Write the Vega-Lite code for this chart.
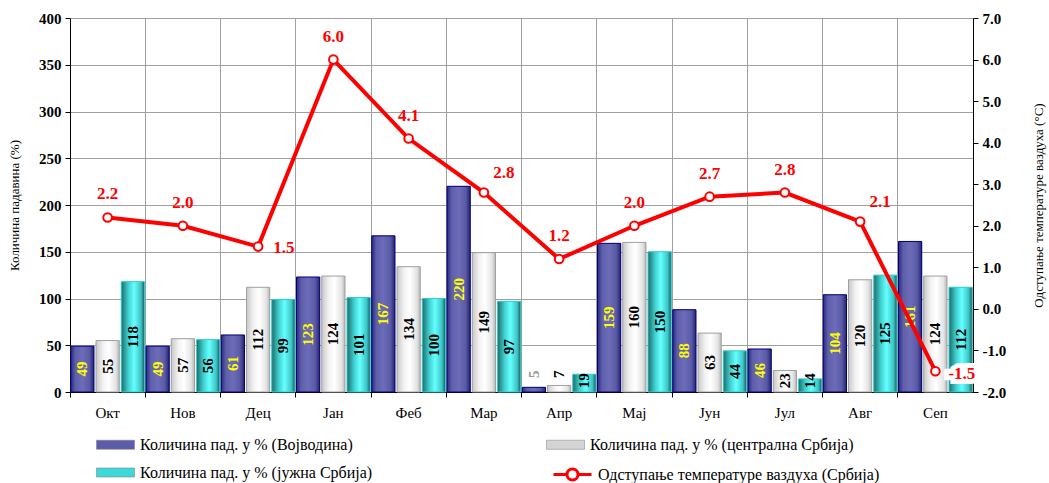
{
  "$schema": "https://vega.github.io/schema/vega-lite/v6.json",
  "width": 903,
  "height": 374,
  "autosize": {"type": "none"},
  "padding": {"left": 70, "top": 18, "right": 76, "bottom": 91},
  "background": "#ffffff",
  "config": {
    "font": "Liberation Serif",
    "view": {"stroke": null},
    "locale": {"number": {"decimal": ".", "thousands": ",", "grouping": [3], "currency": ["$", ""], "minus": "-"}},
    "axis": {"labelFont": "Liberation Serif", "titleFont": "Liberation Serif", "labelColor": "#000000", "titleColor": "#000000", "domainColor": "#000000", "tickColor": "#000000"},
    "legend": {"labelFont": "Liberation Serif"}
  },
  "datasets": {
    "rain": [
      {"month": "Окт", "series": "Количина пад. у % (Војводина)", "value": 49},
      {"month": "Окт", "series": "Количина пад. у % (централна Србија)", "value": 55},
      {"month": "Окт", "series": "Количина пад. у % (јужна Србија)", "value": 118},
      {"month": "Нов", "series": "Количина пад. у % (Војводина)", "value": 49},
      {"month": "Нов", "series": "Количина пад. у % (централна Србија)", "value": 57},
      {"month": "Нов", "series": "Количина пад. у % (јужна Србија)", "value": 56},
      {"month": "Дец", "series": "Количина пад. у % (Војводина)", "value": 61},
      {"month": "Дец", "series": "Количина пад. у % (централна Србија)", "value": 112},
      {"month": "Дец", "series": "Количина пад. у % (јужна Србија)", "value": 99},
      {"month": "Јан", "series": "Количина пад. у % (Војводина)", "value": 123},
      {"month": "Јан", "series": "Количина пад. у % (централна Србија)", "value": 124},
      {"month": "Јан", "series": "Количина пад. у % (јужна Србија)", "value": 101},
      {"month": "Феб", "series": "Количина пад. у % (Војводина)", "value": 167},
      {"month": "Феб", "series": "Количина пад. у % (централна Србија)", "value": 134},
      {"month": "Феб", "series": "Количина пад. у % (јужна Србија)", "value": 100},
      {"month": "Мар", "series": "Количина пад. у % (Војводина)", "value": 220},
      {"month": "Мар", "series": "Количина пад. у % (централна Србија)", "value": 149},
      {"month": "Мар", "series": "Количина пад. у % (јужна Србија)", "value": 97},
      {"month": "Апр", "series": "Количина пад. у % (Војводина)", "value": 5},
      {"month": "Апр", "series": "Количина пад. у % (централна Србија)", "value": 7},
      {"month": "Апр", "series": "Количина пад. у % (јужна Србија)", "value": 19},
      {"month": "Мај", "series": "Количина пад. у % (Војводина)", "value": 159},
      {"month": "Мај", "series": "Количина пад. у % (централна Србија)", "value": 160},
      {"month": "Мај", "series": "Количина пад. у % (јужна Србија)", "value": 150},
      {"month": "Јун", "series": "Количина пад. у % (Војводина)", "value": 88},
      {"month": "Јун", "series": "Количина пад. у % (централна Србија)", "value": 63},
      {"month": "Јун", "series": "Количина пад. у % (јужна Србија)", "value": 44},
      {"month": "Јул", "series": "Количина пад. у % (Војводина)", "value": 46},
      {"month": "Јул", "series": "Количина пад. у % (централна Србија)", "value": 23},
      {"month": "Јул", "series": "Количина пад. у % (јужна Србија)", "value": 14},
      {"month": "Авг", "series": "Количина пад. у % (Војводина)", "value": 104},
      {"month": "Авг", "series": "Количина пад. у % (централна Србија)", "value": 120},
      {"month": "Авг", "series": "Количина пад. у % (јужна Србија)", "value": 125},
      {"month": "Сеп", "series": "Количина пад. у % (Војводина)", "value": 161},
      {"month": "Сеп", "series": "Количина пад. у % (централна Србија)", "value": 124},
      {"month": "Сеп", "series": "Количина пад. у % (јужна Србија)", "value": 112}
    ],
    "temp": [
      {"month": "Окт", "series": "Одступање температуре ваздуха (Србија)", "temp": 2.2},
      {"month": "Нов", "series": "Одступање температуре ваздуха (Србија)", "temp": 2.0},
      {"month": "Дец", "series": "Одступање температуре ваздуха (Србија)", "temp": 1.5},
      {"month": "Јан", "series": "Одступање температуре ваздуха (Србија)", "temp": 6.0},
      {"month": "Феб", "series": "Одступање температуре ваздуха (Србија)", "temp": 4.1},
      {"month": "Мар", "series": "Одступање температуре ваздуха (Србија)", "temp": 2.8},
      {"month": "Апр", "series": "Одступање температуре ваздуха (Србија)", "temp": 1.2},
      {"month": "Мај", "series": "Одступање температуре ваздуха (Србија)", "temp": 2.0},
      {"month": "Јун", "series": "Одступање температуре ваздуха (Србија)", "temp": 2.7},
      {"month": "Јул", "series": "Одступање температуре ваздуха (Србија)", "temp": 2.8},
      {"month": "Авг", "series": "Одступање температуре ваздуха (Србија)", "temp": 2.1},
      {"month": "Сеп", "series": "Одступање температуре ваздуха (Србија)", "temp": -1.5}
    ]
  },
  "encoding": {
    "x": {
      "field": "month",
      "type": "nominal",
      "sort": ["Окт", "Нов", "Дец", "Јан", "Феб", "Мар", "Апр", "Мај", "Јун", "Јул", "Авг", "Сеп"],
      "scale": {"paddingInner": 0, "paddingOuter": 0},
      "axis": {
        "title": null,
        "labelAngle": 0,
        "labelFontSize": 15,
        "bandPosition": 0,
        "labelOffset": 0,
        "labelPadding": 8,
        "grid": true,
        "gridColor": "#a0a0a0",
        "gridWidth": 1,
        "tickSize": 5
      }
    }
  },
  "layer": [
    {
      "data": {"name": "rain"},
      "encoding": {
        "xOffset": {
          "field": "series",
          "type": "nominal",
          "sort": ["Количина пад. у % (Војводина)", "Количина пад. у % (централна Србија)", "Количина пад. у % (јужна Србија)"],
          "scale": {"paddingInner": 0.08, "paddingOuter": 0.03}
        }
      },
      "layer": [
        {
          "mark": {"type": "bar", "strokeWidth": 0},
          "encoding": {
            "y": {
              "field": "value",
              "type": "quantitative",
              "scale": {"domain": [0, 400]},
              "axis": {
                "orient": "left",
                "title": "Количина падавина  (%)",
                "titleFontWeight": "normal",
                "titleFontSize": 13,
                "titlePadding": 17,
                "values": [0, 50, 100, 150, 200, 250, 300, 350, 400],
                "labelFontWeight": "bold",
                "labelFontSize": 15,
                "labelPadding": 4,
                "tickSize": 5,
                "grid": true,
                "gridColor": "#a0a0a0"
              }
            },
            "fill": {
              "field": "series",
              "type": "nominal",
              "scale": {
                "domain": ["Количина пад. у % (Војводина)", "Количина пад. у % (јужна Србија)", "Количина пад. у % (централна Србија)"],
                "range": ["#5c5cab", "#3fd8d8", "#d4d4d4"]
              },
              "legend": {
                "orient": "none",
                "legendX": 26,
                "legendY": 407,
                "title": null,
                "columns": 2,
                "gridAlign": "each",
                "columnPadding": 172,
                "rowPadding": -9,
                "labelFontSize": 16,
                "labelColor": "#000000",
                "labelLimit": 500,
                "labelOffset": 5,
                "symbolSize": 1444,
                "symbolType": "M-1,-0.24H1V0.24H-1Z",
                "symbolStrokeColor": "#7a7a7a",
                "symbolStrokeWidth": 0.5,
                "symbolOpacity": 1
              }
            }
          }
        },
        {
          "mark": {"type": "bar", "strokeWidth": 1},
          "encoding": {
            "y": {"field": "value", "type": "quantitative", "scale": {"domain": [0, 400]}},
            "fill": {
              "condition": [
                {"test": "datum.series === 'Количина пад. у % (Војводина)'", "value": {"gradient": "linear", "x1": 0, "y1": 0, "x2": 1, "y2": 0, "stops": [{"offset": 0, "color": "#2a2a80"}, {"offset": 0.2, "color": "#5e5eaa"}, {"offset": 0.5, "color": "#6c6cb8"}, {"offset": 0.8, "color": "#5a5aa6"}, {"offset": 1, "color": "#26266e"}]}},
                {"test": "datum.series === 'Количина пад. у % (централна Србија)'", "value": {"gradient": "linear", "x1": 0, "y1": 0, "x2": 1, "y2": 0, "stops": [{"offset": 0, "color": "#c8c8c8"}, {"offset": 0.3, "color": "#f2f2f2"}, {"offset": 0.55, "color": "#ffffff"}, {"offset": 0.85, "color": "#e4e4e4"}, {"offset": 1, "color": "#b8b8b8"}]}}
              ],
              "value": {"gradient": "linear", "x1": 0, "y1": 0, "x2": 1, "y2": 0, "stops": [{"offset": 0, "color": "#1f6a6a"}, {"offset": 0.3, "color": "#3fd0d0"}, {"offset": 0.55, "color": "#66ffff"}, {"offset": 0.85, "color": "#3cc4c4"}, {"offset": 1, "color": "#1a5656"}]}
            },
            "stroke": {
              "condition": [
                {"test": "datum.series === 'Количина пад. у % (Војводина)'", "value": "#000080"},
                {"test": "datum.series === 'Количина пад. у % (централна Србија)'", "value": "#a0a0a0"}
              ],
              "value": "#33cccc"
            }
          }
        },
        {
          "transform": [{"calculate": "datum.value < 10 ? 19 : max(datum.value / 2, 12)", "as": "mid"}],
          "mark": {"type": "text", "angle": 270, "fontWeight": "bold", "fontSize": 15, "align": "center", "baseline": "middle", "font": "Liberation Serif"},
          "encoding": {
            "y": {"field": "mid", "type": "quantitative", "scale": {"domain": [0, 400]}},
            "text": {"field": "value", "type": "quantitative"},
            "color": {
              "condition": [
                {"test": "datum.value < 10 && datum.series === 'Количина пад. у % (Војводина)'", "value": "#9a9a9a"},
                {"test": "datum.series === 'Количина пад. у % (Војводина)'", "value": "#ffff00"}
              ],
              "value": "#000000"
            }
          }
        }
      ]
    },
    {
      "data": {"name": "temp"},
      "encoding": {
        "y": {
          "field": "temp",
          "type": "quantitative",
          "scale": {"domain": [-2, 7]},
          "axis": {
            "orient": "right",
            "title": "Одступање температуре ваздуха (°C)",
            "titleAngle": 270,
            "titleFontWeight": "normal",
            "titleFontSize": 13,
            "titlePadding": 40,
            "values": [-2, -1, 0, 1, 2, 3, 4, 5, 6, 7],
            "format": ".1f",
            "labelFontWeight": "bold",
            "labelFontSize": 15,
            "labelPadding": 4,
            "tickSize": 5,
            "grid": false
          }
        }
      },
      "layer": [
        {
          "mark": {"type": "line", "strokeWidth": 4},
          "encoding": {
            "order": {"value": null},
            "stroke": {
              "field": "series",
              "type": "nominal",
              "scale": {"domain": ["Одступање температуре ваздуха (Србија)"], "range": ["#ff0000"]},
              "legend": {
                "orient": "none",
                "legendX": 482,
                "legendY": 436,
                "title": null,
                "labelFontSize": 16,
                "labelColor": "#000000",
                "labelLimit": 500,
                "labelOffset": 5,
                "symbolSize": 1444,
                "symbolType": "M-1,0H-0.29 M0.29,0H1 M0.29,0A0.29,0.29 0 1,0 -0.29,0A0.29,0.29 0 1,0 0.29,0",
                "symbolStrokeWidth": 3,
                "symbolFillColor": "#ffffff",
                "symbolOpacity": 1
              }
            }
          }
        },
        {
          "mark": {"type": "point", "filled": true, "fill": "#ffffff", "stroke": "#ff0000", "strokeWidth": 2, "size": 75, "opacity": 1}
        },
        {
          "transform": [{"filter": "indexof(['Окт','Нов','Јан','Феб','Апр','Мај','Јун','Јул'], datum.month) >= 0"}],
          "mark": {"type": "text", "dy": -23, "fontSize": 17, "fontWeight": "bold", "color": "#ff0000", "align": "center", "baseline": "middle", "font": "Liberation Serif"},
          "encoding": {"text": {"field": "temp", "type": "quantitative", "format": ".1f"}}
        },
        {
          "transform": [{"filter": "datum.month === 'Дец'"}],
          "mark": {"type": "text", "dx": 15, "dy": 1, "fontSize": 17, "fontWeight": "bold", "color": "#ff0000", "align": "left", "baseline": "middle", "font": "Liberation Serif"},
          "encoding": {"text": {"field": "temp", "type": "quantitative", "format": ".1f"}}
        },
        {
          "transform": [{"filter": "datum.month === 'Мар' || datum.month === 'Авг'"}],
          "mark": {"type": "text", "dx": 20, "dy": -20, "fontSize": 17, "fontWeight": "bold", "color": "#ff0000", "align": "center", "baseline": "middle", "font": "Liberation Serif"},
          "encoding": {"text": {"field": "temp", "type": "quantitative", "format": ".1f"}}
        },
        {
          "transform": [{"filter": "datum.month === 'Сеп'"}],
          "mark": {"type": "text", "dx": 13, "dy": 3, "fontSize": 17, "fontWeight": "bold", "color": "#ff0000", "stroke": "#ffffff", "strokeWidth": 10, "strokeJoin": "miter", "align": "left", "baseline": "middle", "font": "Liberation Serif"},
          "encoding": {"text": {"field": "temp", "type": "quantitative", "format": ".1f"}}
        },
        {
          "transform": [{"filter": "datum.month === 'Сеп'"}],
          "mark": {"type": "text", "dx": 13, "dy": 3, "fontSize": 17, "fontWeight": "bold", "color": "#ff0000", "align": "left", "baseline": "middle", "font": "Liberation Serif"},
          "encoding": {"text": {"field": "temp", "type": "quantitative", "format": ".1f"}}
        }
      ]
    }
  ],
  "resolve": {"scale": {"y": "independent"}}
}
